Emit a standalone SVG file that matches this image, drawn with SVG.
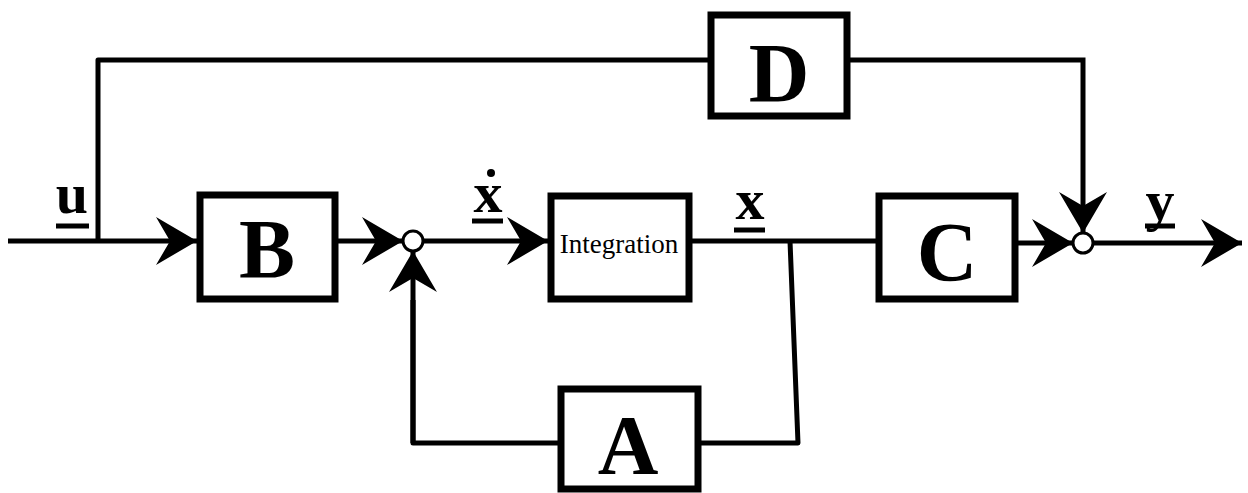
<svg xmlns="http://www.w3.org/2000/svg" width="1248" height="493" viewBox="0 0 1248 493">
<defs>
<marker id="ah" markerUnits="userSpaceOnUse" markerWidth="50" markerHeight="50" viewBox="-42 -25 44 50" refX="0" refY="0" orient="auto">
<path d="M0,0 L-41,-24 L-27,0 L-41,24 Z" fill="#000"/>
</marker>
</defs>
<style>
.box{fill:#fff;stroke:#000;stroke-width:7}
.ln{fill:none;stroke:#000;stroke-width:5;stroke-linejoin:round}
.arr{fill:none;stroke:#000;stroke-width:5;marker-end:url(#ah)}
.sum{fill:#fff;stroke:#000;stroke-width:3}
.big{font-family:"Liberation Serif",serif;font-weight:bold;font-size:84px;text-anchor:middle}
.lab{font-family:"Liberation Serif",serif;font-weight:bold;font-size:58px;text-anchor:middle}
.int{font-family:"Liberation Serif",serif;font-size:27px;text-anchor:middle}
.ul{stroke:#000;stroke-width:5}
</style>
<rect width="1248" height="493" fill="#fff"/>
<g id="connectors">
<path class="arr" d="M8,241 H197"/>
<path class="ln" d="M98,241 V60 H708"/>
<path class="arr" d="M338,241 H403"/>
<path class="arr" d="M423,241 H548"/>
<path class="ln" d="M692,241 H876"/>
<path class="ln" d="M790,241 L798,443 H701"/>
<path class="ln" d="M558,443 H413 V300"/>
<path class="arr" d="M413,443 V251"/>
<path class="arr" d="M850,60 H1083 V233"/>
<path class="arr" d="M1018,243 H1073"/>
<path class="arr" d="M1093,243 H1242"/>
</g>
<g id="sum1"><circle class="sum" cx="413" cy="241" r="10"/></g>
<g id="sum2"><circle class="sum" cx="1083" cy="243" r="10"/></g>
<g id="B"><rect class="box" x="200" y="195" width="135" height="104"/><text class="big" x="267" y="278">B</text></g>
<g id="Integration"><rect class="box" x="551" y="196" width="138" height="103"/><text class="int" x="619" y="253">Integration</text></g>
<g id="C"><rect class="box" x="879" y="196" width="136" height="103"/><text class="big" x="947" y="281">C</text></g>
<g id="D"><rect class="box" x="711" y="15" width="136" height="101"/><text class="big" x="779" y="102">D</text></g>
<g id="A"><rect class="box" x="561" y="389" width="137" height="100"/><text class="big" x="628" y="474">A</text></g>
<g id="labels">
<text class="lab" x="72" y="213">u</text><line class="ul" x1="56" y1="226" x2="89" y2="226"/>
<text class="lab" x="488" y="212">x</text><circle cx="491" cy="173" r="4"/><line class="ul" x1="472" y1="221" x2="503" y2="221"/>
<text class="lab" x="750" y="219">x</text><line class="ul" x1="734" y1="230" x2="765" y2="230"/>
<text class="lab" x="1160" y="220">y</text><line class="ul" x1="1145" y1="226" x2="1175" y2="226"/>
</g>
</svg>
